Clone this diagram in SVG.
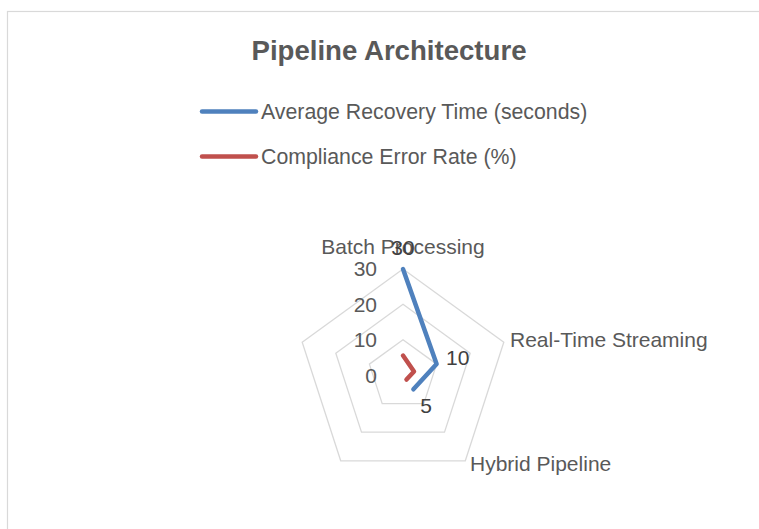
<svg xmlns="http://www.w3.org/2000/svg" width="759" height="529" viewBox="0 0 759 529">
<style>
.t{font-family:"Liberation Sans",Arial,sans-serif;font-size:21px;fill:#595959}
.lg{font-size:21.3px}
.dl{font-family:"Liberation Sans",Arial,sans-serif;font-size:21px;fill:#404040}
.grid{fill:none;stroke:#d9d9d9;stroke-width:1.3}
.s{fill:none;stroke-width:4.5;stroke-linecap:round;stroke-linejoin:round}
</style>
<rect x="0" y="0" width="759" height="529" fill="#ffffff"/>
<rect x="7.5" y="11.5" width="800" height="600" fill="none" stroke="#d9d9d9" stroke-width="1.2"/>
<g id="title"><text x="389" y="60" text-anchor="middle" style="font-family:'Liberation Sans',Arial,sans-serif;font-size:27.6px;font-weight:bold;fill:#595959">Pipeline Architecture</text></g>
<g id="legend">
<line x1="202" y1="111.5" x2="256" y2="111.5" stroke="#4f81bd" class="s"/>
<text class="t lg" x="261" y="119">Average Recovery Time (seconds)</text>
<line x1="202" y1="156.5" x2="256" y2="156.5" stroke="#c0504d" class="s"/>
<text class="t lg" x="261" y="164">Compliance Error Rate (%)</text>
</g>
<g id="grid">
<polygon class="grid" points="403,339.7 436.6,364.1 423.8,403.6 382.2,403.6 369.4,364.1"/>
<polygon class="grid" points="403,304.3 470.2,353.2 444.5,432.2 361.5,432.2 335.8,353.2"/>
<polygon class="grid" points="403,269 503.8,342.2 465.3,460.8 340.7,460.8 302.2,342.2"/>
</g>
<g id="axis-labels">
<text class="t" x="377" y="276" text-anchor="end">30</text>
<text class="t" x="377" y="311.5" text-anchor="end">20</text>
<text class="t" x="377" y="347" text-anchor="end">10</text>
<text class="t" x="377" y="382.5" text-anchor="end">0</text>
</g>
<g id="category-labels">
<text class="t" x="403" y="254" text-anchor="middle">Batch Processing</text>
<text class="t" x="510" y="347">Real-Time Streaming</text>
<text class="t" x="470" y="470.5">Hybrid Pipeline</text>
</g>
<g id="connectors">
<polyline id="series-recovery" class="s" stroke="#4f81bd" points="403,269 436.6,364.1 413.4,389.3"/>
<polyline id="series-compliance" class="s" stroke="#c0504d" points="403,355.5 414,371.5 406.5,379.5"/>
</g>
<g id="data-labels">
<text class="dl" x="403" y="255" text-anchor="middle">30</text>
<text class="dl" x="446" y="365">10</text>
<text class="dl" x="426" y="413" text-anchor="middle">5</text>
</g>
</svg>
